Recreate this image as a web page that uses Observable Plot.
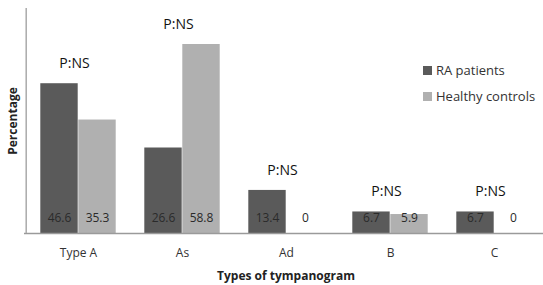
<!DOCTYPE html>
<html>
<head>
<meta charset="utf-8">
<script src="https://cdn.jsdelivr.net/npm/d3@7"></script>
<script src="https://cdn.jsdelivr.net/npm/@observablehq/plot@0.6"></script>
<style>
  html, body { margin: 0; padding: 0; background: #fff; }
  #wrap { position: relative; width: 543px; height: 285px; font-family: "Open Sans", sans-serif; }
  #wrap svg { overflow: visible; }
  #wrap [aria-label="x-axis label"] text, #wrap [aria-label="y-axis label"] text { font-weight: bold; fill: #222; }
  #legend { position: absolute; left: 423px; top: 57px; font-size: 13px; color: #333; }
  #legend .row { display: flex; align-items: center; height: 26px; }
  #legend .sw { width: 9px; height: 9px; margin-right: 4px; }
</style>
</head>
<body>
<div id="wrap"></div>
<script>
const categories = ["Type A", "As", "Ad", "B", "C"];
const seriesNames = ["RA patients", "Healthy controls"];
const raPatients = [46.6, 26.6, 13.4, 6.7, 6.7];
const healthyControls = [35.3, 58.8, 0, 5.9, 0];
const pLabels = ["P:NS", "P:NS", "P:NS", "P:NS", "P:NS"];
const colors = ["#5a5a5a", "#b0b0b0"];

const W = 543, H = 285, mL = 24, mR = -4;
const step = (W - mL - mR) / categories.length;
const barW = 38;
const gap = (step - 2 * barW) / 2;

const rows = [];
categories.forEach((c, i) => {
  rows.push({cat: c, series: seriesNames[0], value: raPatients[i]});
  rows.push({cat: c, series: seriesNames[1], value: healthyControls[i]});
});
const groups = categories.map((c, i) => ({cat: c, label: pLabels[i], max: Math.max(raPatients[i], healthyControls[i])}));
const ra = rows.filter(d => d.series === seriesNames[0]);
const hc = rows.filter(d => d.series === seriesNames[1]);

const chart = Plot.plot({
  width: W, height: H,
  marginLeft: mL, marginRight: mR, marginTop: 8, marginBottom: 52,
  style: {fontFamily: "'Open Sans', sans-serif", fontSize: "12px", color: "#333", background: "#fff"},
  x: {domain: categories, padding: 0},
  y: {domain: [0, 70], labelArrow: "none"},
  color: {domain: seriesNames, range: colors},
  marks: [
    Plot.barY(ra, {x: "cat", y: "value", fill: "series", insetLeft: gap, insetRight: gap + barW}),
    Plot.barY(hc, {x: "cat", y: "value", fill: "series", insetLeft: gap + barW, insetRight: gap}),
    Plot.ruleY([0], {stroke: "#9a9a9a", strokeWidth: 1.5}),
    Plot.ruleX([categories[0]], {x: d => d, dx: -step / 2, y1: 0, y2: 70, stroke: "#aaaaaa", strokeWidth: 1.5}),
    Plot.text(ra, {x: "cat", y: 0, text: d => String(d.value), dx: -barW / 2, dy: -15, fill: "#2a2a2a", fontSize: 12}),
    Plot.text(hc, {x: "cat", y: 0, text: d => String(d.value), dx: barW / 2, dy: -15, fill: "#2a2a2a", fontSize: 12}),
    Plot.text(groups, {x: "cat", y: "max", text: "label", dx: -4, dy: -20, fill: "#111", fontSize: 14}),
    Plot.axisX({tickSize: 0, tickPadding: 15, fontSize: 12, label: "Types of tympanogram", labelAnchor: "center", labelOffset: 46, fill: "#333", labelArrow: "none"}),
    Plot.axisY({ticks: [], tickSize: 0, label: "Percentage", labelAnchor: "center", labelOffset: 16, labelArrow: "none"})
  ]
});
document.getElementById("wrap").appendChild(chart);

const legend = document.createElement("div");
legend.id = "legend";
seriesNames.forEach((s, i) => {
  const row = document.createElement("div");
  row.className = "row";
  const sw = document.createElement("span");
  sw.className = "sw";
  sw.style.background = colors[i];
  row.appendChild(sw);
  row.appendChild(document.createTextNode(s));
  legend.appendChild(row);
});
document.getElementById("wrap").appendChild(legend);
</script>
</body>
</html>
